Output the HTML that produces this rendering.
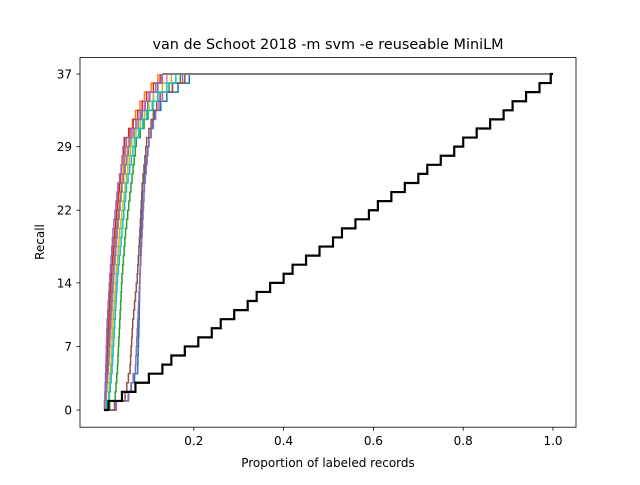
<!DOCTYPE html>
<html><head><meta charset="utf-8"><style>
body{margin:0;background:#fff}
svg text{font-family:"DejaVu Sans","Liberation Sans",sans-serif;fill:#000}
</style></head><body>
<svg id="chart" width="640" height="480" viewBox="0 0 640 480">
<rect x="0" y="0" width="640" height="480" fill="#fff"/>
<text x="328" y="49" font-size="14.4" text-anchor="middle">van de Schoot 2018 -m svm -e reuseable MiniLM</text>
<text x="328" y="467" font-size="12" text-anchor="middle">Proportion of labeled records</text>
<text transform="translate(44,242) rotate(-90)" font-size="12" text-anchor="middle">Recall</text>
<g id="plot"></g>
<rect x="80" y="57.6" width="496" height="369.6" fill="none" stroke="#000" stroke-width="0.8"/>
</svg>
<script>
const xTicks=[0.2,0.4,0.6,0.8,1.0];
const yTicks=[0,7,14,22,29,37];
const knotRecall=[0,2,5,10,15,20,25,30,33,35,37];
const s1=[0,.002,.004,.007,.013,.02,.031,.049,.082,.102,.129];
const s2=[0,.003,.006,.01,.016,.024,.034,.045,.075,.095,.125];
const s3=[0,.004,.008,.013,.02,.028,.038,.05,.07,.09,.12];
const s4=[0,.005,.01,.016,.022,.03,.04,.055,.08,.1,.14];
const s5=[0,.004,.009,.014,.02,.028,.04,.058,.085,.11,.13];
const s6=[0,.01,.015,.02,.027,.035,.047,.062,.09,.11,.15];
const s7=[0,.012,.018,.024,.03,.04,.05,.068,.095,.12,.16];
const s8=[0,.025,.03,.035,.04,.048,.06,.072,.098,.12,.17];
const s9=[0,.047,.058,.064,.074,.08,.085,.095,.11,.125,.18];
const s10=[0,.055,.07,.075,.08,.085,.09,.1,.115,.13,.175];
const s11=[0,.054,.075,.078,.08,.083,.086,.1,.113,.14,.19];
const seriesList=[s11,s3,s8,s2,s10,s9,s4,s5,s6,s7,s1];
const seriesColors=["#1f77b4","#ff7f0e","#2ca02c","#d62728","#9467bd","#8c564b","#e377c2","#7f7f7f","#bcbd22","#17becf","#9467bd"];
const baselineJumps=[.01,.04,.07,.1,.13,.15,.18,.21,.24,.26,.29,.32,.34,.37,.4,.42,.45,.48,.51,.53,.56,.59,.61,.64,.67,.7,.72,.75,.78,.8,.83,.86,.89,.91,.94,.97,.995];
const maxLine=[0.13,1.0];
const maxRecall=37;

const NS="http://www.w3.org/2000/svg";
const sx=v=>104+v*449;
const sy=v=>410-v*(336/37);
const plot=document.getElementById('plot');
const svg=document.getElementById('chart');
function mk(tag,parent){const e=document.createElementNS(NS,tag);parent.appendChild(e);return e;}

xTicks.forEach(t=>{
  const l=mk('line',svg);
  
  
  l.setAttribute('x1',sx(t));l.setAttribute('x2',sx(t));l.setAttribute('y1',427.2);l.setAttribute('y2',430.7);l.setAttribute('stroke','#000');l.setAttribute('stroke-width','0.8');
  const tx=mk('text',svg);
  
  
  tx.setAttribute('x',sx(t));tx.setAttribute('y',445);tx.setAttribute('font-size','12');tx.setAttribute('text-anchor','middle');
  tx.textContent=t.toFixed(1);
});
yTicks.forEach(t=>{
  const l=mk('line',svg);
  
  
  l.setAttribute('x1',76.5);l.setAttribute('x2',80);l.setAttribute('y1',sy(t));l.setAttribute('y2',sy(t));l.setAttribute('stroke','#000');l.setAttribute('stroke-width','0.8');
  const tx=mk('text',svg);
  
  
  tx.setAttribute('x',72);tx.setAttribute('y',sy(t)+4.5);tx.setAttribute('font-size','12');tx.setAttribute('text-anchor','end');
  tx.textContent=t;
});

seriesList.forEach((s,i)=>{
  let d='M'+sx(s[0])+','+sy(knotRecall[0]);
  for(let k=1;k<s.length;k++){
    const r0=knotRecall[k-1],r1=knotRecall[k];
    const n=r1-r0;
    for(let j=1;j<=n;j++){
      const x=s[k-1]+(s[k]-s[k-1])*j/n;
      d+=' H'+sx(x)+' V'+sy(r0+j);
    }
  }
  const p=mk('path',plot);
  
  
  p.setAttribute('d',d);p.setAttribute('fill','none');p.setAttribute('stroke',seriesColors[i]);p.setAttribute('stroke-width','1.5');
});

const ml=mk('line',plot);


ml.setAttribute('x1',sx(maxLine[0]));ml.setAttribute('x2',sx(maxLine[1]));ml.setAttribute('y1',sy(maxRecall));ml.setAttribute('y2',sy(maxRecall));ml.setAttribute('stroke','#7f7f7f');ml.setAttribute('stroke-width','2');

let bd='M'+sx(0)+','+sy(0);
baselineJumps.forEach((x,k)=>{bd+=' H'+sx(x)+' V'+sy(k+1);});
bd+=' H'+sx(1);
const bp=mk('path',plot);


bp.setAttribute('d',bd);bp.setAttribute('fill','none');bp.setAttribute('stroke','#000');bp.setAttribute('stroke-width','2.2');
</script>
</body></html>
